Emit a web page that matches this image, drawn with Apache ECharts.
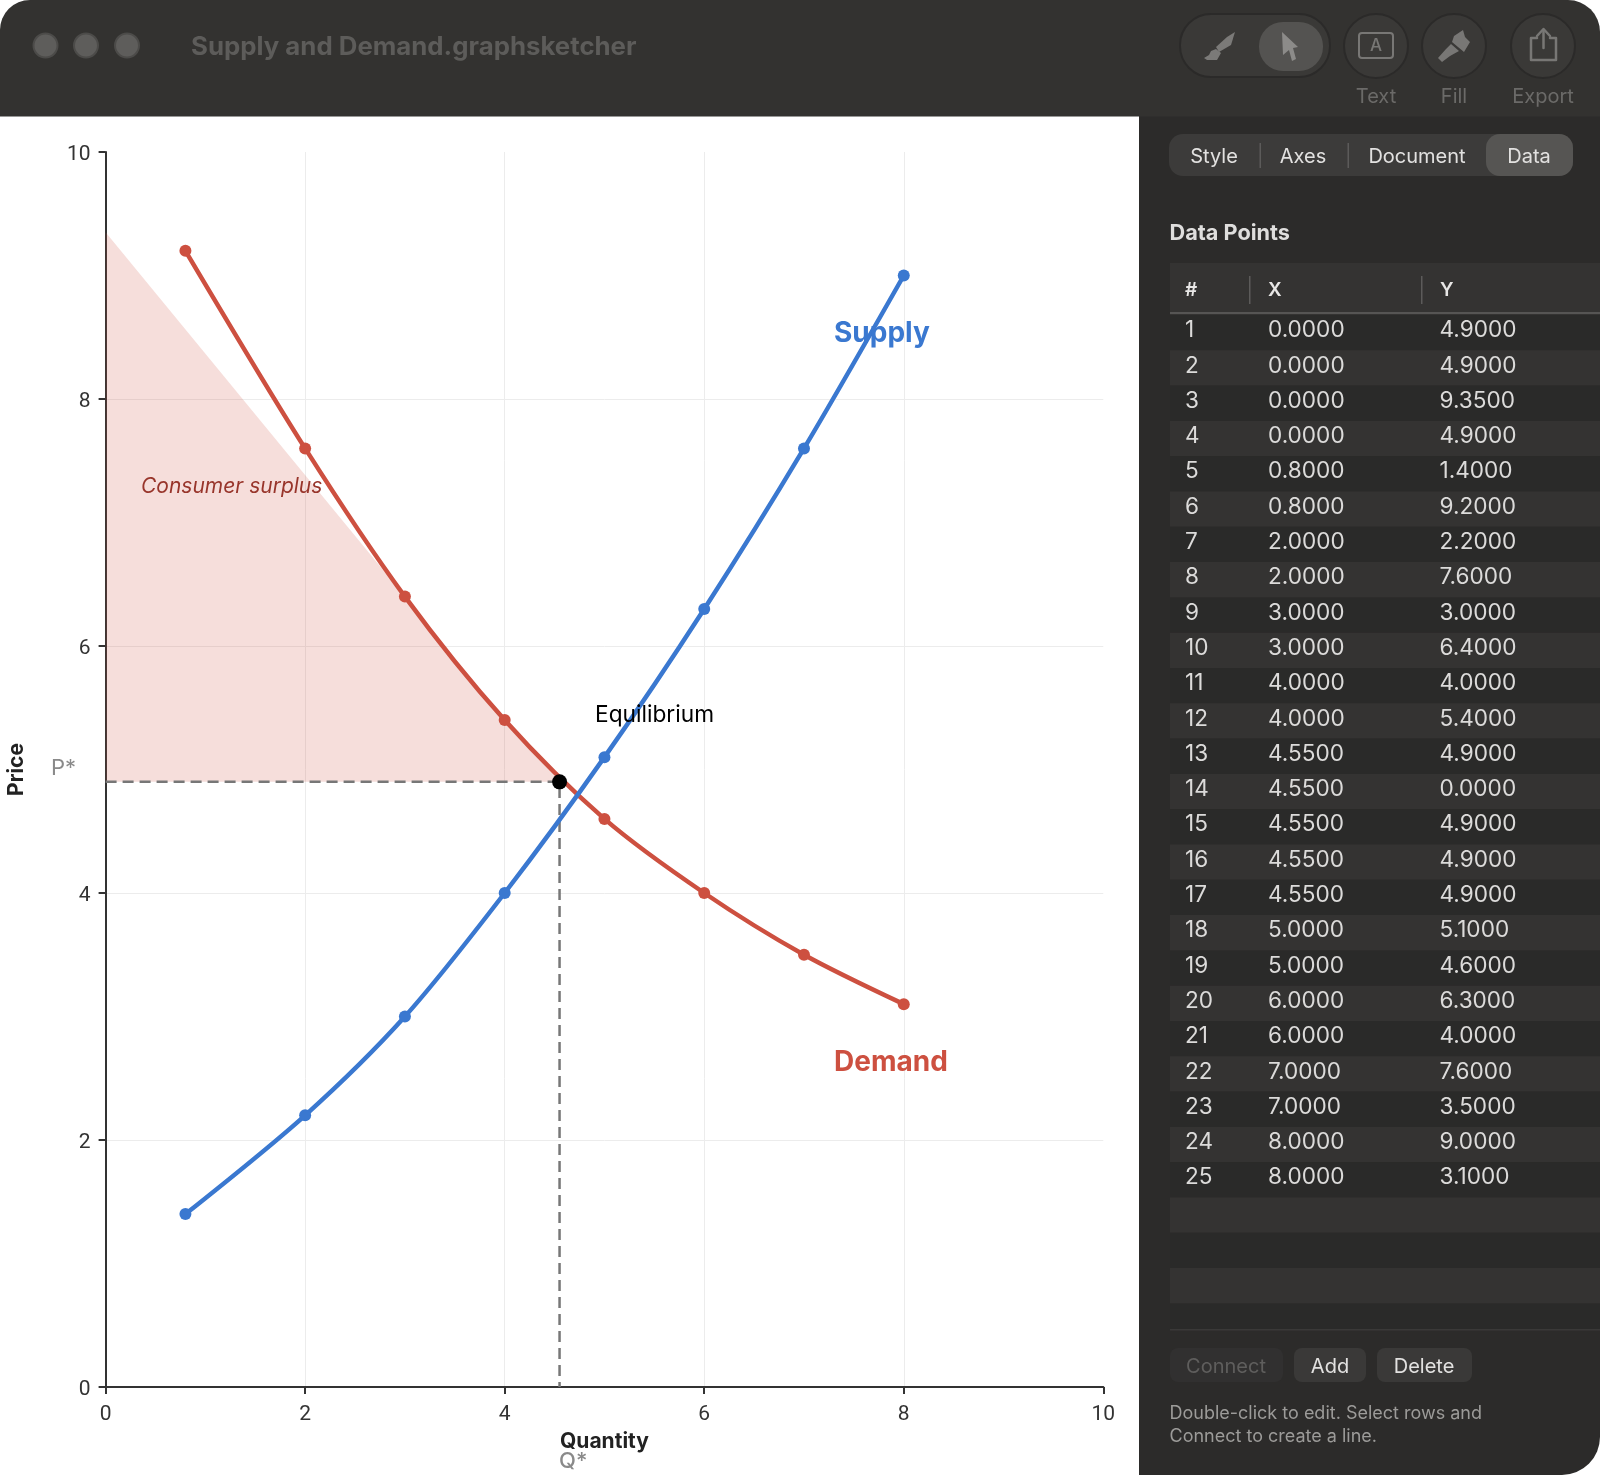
<!DOCTYPE html>
<html>
<head>
<meta charset="utf-8">
<title>Supply and Demand</title>
<script src="https://cdn.jsdelivr.net/npm/echarts@6/dist/echarts.min.js"></script>
<style>
  html, body { margin: 0; padding: 0; background: #fff; }
  #main { width: 1600px; height: 1475px; }
</style>
</head>
<body>
<div id="main"></div>
<script>
// curves
var quantity = [0.8, 2, 3, 4, 5, 6, 7, 8];
var supplyPrice = [1.4, 2.2, 3, 4, 5.1, 6.3, 7.6, 9];
var demandPrice = [9.2, 7.6, 6.4, 5.4, 4.6, 4, 3.5, 3.1];
var eqQ = 4.55;
var eqP = 4.9;
// consumer surplus polygon
var surplusX = [0, 0, 3, 4, 4.55];
var surplusY = [4.9, 9.35, 6.4, 5.4, 4.9];
// axis ticks
var xTicks = [0, 2, 4, 6, 8, 10];
var yTicks = [0, 2, 4, 6, 8, 10];
// data table on the right
var rowX = ['0.0000', '0.0000', '0.0000', '0.0000', '0.8000', '0.8000', '2.0000', '2.0000', '3.0000', '3.0000', '4.0000', '4.0000', '4.5500', '4.5500', '4.5500', '4.5500', '4.5500', '5.0000', '5.0000', '6.0000', '6.0000', '7.0000', '7.0000', '8.0000', '8.0000'];
var rowY = ['4.9000', '4.9000', '9.3500', '4.9000', '1.4000', '9.2000', '2.2000', '7.6000', '3.0000', '6.4000', '4.0000', '5.4000', '4.9000', '0.0000', '4.9000', '4.9000', '4.9000', '5.1000', '4.6000', '6.3000', '4.0000', '7.6000', '3.5000', '9.0000', '3.1000'];
var tabs = ['Style', 'Axes', 'Document', 'Data'];
var tools = ['Text', 'Fill', 'Export'];

var FONT = 'Inter, "Noto Sans", sans-serif';
var BLUE = '#3a78d0';
var RED = '#cd5040';

function zip(xs, ys) {
  return xs.map(function (x, i) { return [x, ys[i]]; });
}
function txt(s, x, y, size, color, extra) {
  var st = {
    text: s, x: x, y: y, fill: color, align: 'left', verticalAlign: 'middle',
    font: (extra && extra.font ? extra.font + ' ' : '') + size + 'px ' + FONT
  };
  if (extra && extra.align) st.align = extra.align;
  return { type: 'text', z: 20, style: st, rotation: extra && extra.rotation || 0, silent: true };
}
function box(x, y, w, h, fill, r, stroke, z) {
  return {
    type: 'rect', z: z || 10, silent: true,
    shape: { x: x, y: y, width: w, height: h, r: r || 0 },
    style: { fill: fill, stroke: stroke || null, lineWidth: stroke ? 2 : 0 }
  };
}
function poly(points, fill) {
  return { type: 'polygon', z: 15, silent: true, shape: { points: points }, style: { fill: fill } };
}
function stroke(points, color, w) {
  return { type: 'polyline', z: 15, silent: true, shape: { points: points }, style: { stroke: color, lineWidth: w, fill: null, lineCap: 'round', lineJoin: 'round' } };
}
function circle(cx, cy, r, fill, border) {
  return { type: 'circle', z: 11, silent: true, shape: { cx: cx, cy: cy, r: r }, style: { fill: fill, stroke: border || null, lineWidth: border ? 2 : 0 } };
}

// window chrome: title bar, toolbar, inspector and table
function buildChrome() {
  var g = [];
  g.push(box(1139, 100, 461, 1375, '#2c2b2a', [0, 0, 38, 0], null, 9));
  g.push(box(0, 0, 1600, 116.5, '#333230', [30, 32, 0, 0], null, 9));

  // traffic lights
  [45.5, 86, 127].forEach(function (x) {
    g.push(circle(x, 45.5, 12, '#5e5d5b', '#4c4b49'));
  });
  g.push(txt('Supply and Demand.graphsketcher', 191, 47, 25.8, '#5d5c5a', { font: '700' }));

  // toolbar buttons
  g.push(box(1180, 14, 150, 63, '#3a3937', 31, '#2b2a29'));
  g.push(box(1259, 22, 64, 49, '#545351', 24));
  g.push(circle(1376, 46, 32, '#3a3937', '#2b2a29'));
  g.push(circle(1454, 46, 32, '#3a3937', '#2b2a29'));
  g.push(circle(1543, 46, 32, '#3a3937', '#2b2a29'));
  // brush
  g.push(poly([[1235, 32], [1231, 45], [1219, 52], [1216, 47], [1227, 37]], '#7b7a78'));
  g.push(poly([[1216, 49], [1221, 53], [1217, 60], [1207, 60], [1204, 58], [1209, 55], [1211, 51]], '#7b7a78'));
  // arrow
  g.push(poly([[1282, 32], [1298, 47], [1293, 48], [1296, 59], [1292, 61], [1289, 50], [1283, 55]], '#8c8b89'));
  // text frame
  g.push(box(1359, 33, 34, 25, null, 3, '#787775', 15));
  g.push(txt('A', 1376, 46, 17, '#787775', { align: 'center', font: '500' }));
  // fill brush
  g.push(poly([[1454, 36], [1463, 30], [1465, 37], [1470, 42], [1464, 52], [1452, 42]], '#787775'));
  g.push(poly([[1451, 44], [1459, 51], [1450, 56], [1442, 62], [1438, 58], [1446, 49]], '#787775'));
  // share
  g.push(stroke([[1537, 38], [1531, 38], [1531, 60], [1556, 60], [1556, 38], [1550, 38]], '#787775', 2.5));
  g.push(stroke([[1543.5, 48], [1543.5, 30]], '#787775', 2.5));
  g.push(stroke([[1537, 36], [1543.5, 29], [1550, 36]], '#787775', 2.5));
  [1376, 1454, 1543].forEach(function (x, i) {
    g.push(txt(tools[i], x, 97, 20, '#6b6a68', { align: 'center' }));
  });

  // inspector tabs
  g.push(box(1169, 134, 404, 42, '#3c3b3a', 14));
  g.push(box(1486, 134, 87, 42, '#565553', 14));
  g.push(box(1259.5, 143, 1.5, 25, '#5c5b5a'));
  g.push(box(1347.5, 143, 1.5, 25, '#5c5b5a'));
  [1214, 1303, 1417, 1529].forEach(function (x, i) {
    g.push(txt(tabs[i], x, 157, 20, '#e2e1e0', { align: 'center' }));
  });
  g.push(txt('Data Points', 1169.5, 233.5, 21.7, '#dfdedd', { font: '700' }));

  // table
  g.push(box(1170, 263, 430, 52, '#343332'));
  g.push(box(1170, 312, 430, 2, '#565554'));
  g.push(box(1249, 276, 1.5, 28, '#5c5b5a'));
  g.push(box(1421, 276, 1.5, 28, '#5c5b5a'));
  g.push(txt('#', 1185, 290.5, 19, '#e8e7e6', { font: '600' }));
  g.push(txt('X', 1268, 290.5, 19, '#e8e7e6', { font: '600' }));
  g.push(txt('Y', 1440, 290.5, 19, '#e8e7e6', { font: '600' }));
  for (var i = 0; i < 29; i++) {
    var top = 315 + i * 35.3;
    g.push(box(1170, top, 430, i === 28 ? 26 : 35.3, i % 2 ? '#343332' : '#2a2a29'));
    if (i < rowX.length) {
      g.push(txt(String(i + 1), 1185, top + 15.5, 22.6, '#dcdbda'));
      g.push(txt(rowX[i], 1268, top + 15.5, 22.6, '#dcdbda'));
      g.push(txt(rowY[i], 1439.5, top + 15.5, 22.6, '#dcdbda'));
    }
  }
  g.push(box(1170, 1329, 430, 1.5, '#3a3938'));

  // buttons and hint
  g.push(box(1170, 1348, 113, 34, '#313030', 8));
  g.push(box(1294, 1348, 72, 34, '#3a3938', 8));
  g.push(box(1377, 1348, 95, 34, '#3a3938', 8));
  g.push(txt('Connect', 1226, 1367, 20, '#5f5e5d', { align: 'center' }));
  g.push(txt('Add', 1330, 1367, 20, '#e2e1e0', { align: 'center' }));
  g.push(txt('Delete', 1424, 1367, 20, '#e2e1e0', { align: 'center' }));
  g.push(txt('Double-click to edit. Select rows and', 1169.5, 1413.5, 18, '#9c9b99'));
  g.push(txt('Connect to create a line.', 1169.5, 1436.5, 18, '#9c9b99'));

  // notes on the chart
  g.push(txt('Supply', 834, 334, 28, BLUE, { font: '700' }));
  g.push(txt('Demand', 834, 1063, 28, RED, { font: '700' }));
  g.push(txt('Consumer surplus', 141, 487, 21, '#98352b', { font: 'italic' }));
  g.push(txt('Equilibrium', 595, 715, 22.7, '#000'));
  g.push(txt('P*', 51, 768, 22, '#8a8a8a'));
  g.push(txt('Q*', 559, 1461, 22, '#8a8a8a', { font: '500' }));
  return g;
}

var chart = echarts.init(document.getElementById('main'));

var axisCommon = {
  type: 'value', min: 0, max: 10, interval: 2,
  axisLine: { onZero: false, lineStyle: { color: '#333', width: 2 } },
  axisTick: { show: true, length: 7, lineStyle: { color: '#333', width: 2 } },
  splitLine: { show: true, showMinLine: false, showMaxLine: false, lineStyle: { color: '#ececec', width: 1 } },
  nameLocation: 'middle',
  nameTextStyle: { color: '#222', fontFamily: FONT, fontWeight: 700, fontSize: 21 }
};

var option = {
  animation: false,
  backgroundColor: '#fff',
  grid: { left: 105.6, top: 152, width: 997.7, height: 1235, outerBoundsMode: 'none' },
  xAxis: Object.assign({}, axisCommon, {
    name: 'Quantity', nameGap: 44,
    axisLabel: { color: '#333', fontFamily: 'Roboto', fontSize: 21, margin: 17, formatter: function (v) { return xTicks.indexOf(v) >= 0 ? v : ''; } }
  }),
  yAxis: Object.assign({}, axisCommon, {
    name: 'Price', nameGap: 78,
    axisLabel: { color: '#333', fontFamily: 'Roboto', fontSize: 21, margin: 15, verticalAlign: 'top', lineHeight: 5, formatter: function (v) { return yTicks.indexOf(v) >= 0 ? v : ''; } }
  }),
  graphic: { elements: buildChrome() },
  series: [
    {
      name: 'Consumer surplus', type: 'custom', z: 1, silent: true,
      data: [zip(surplusX, surplusY)],
      renderItem: function (params, api) {
        return {
          type: 'polygon',
          shape: { points: zip(surplusX, surplusY).map(function (p) { return api.coord(p); }) },
          style: { fill: 'rgba(205,80,64,0.19)' }
        };
      }
    },
    {
      name: 'Guides', type: 'line', z: 2, silent: true, symbol: 'none',
      data: [[0, eqP], [eqQ, eqP], [eqQ, 0]],
      lineStyle: { color: '#777', width: 2.5, type: [11, 6] }
    },
    {
      name: 'Demand', type: 'line', z: 3, smooth: 0.3, symbol: 'circle', symbolSize: 12,
      data: zip(quantity, demandPrice),
      lineStyle: { color: RED, width: 4.5 }, itemStyle: { color: RED }
    },
    {
      name: 'Supply', type: 'line', z: 4, smooth: 0.3, symbol: 'circle', symbolSize: 12,
      data: zip(quantity, supplyPrice),
      lineStyle: { color: BLUE, width: 4.5 }, itemStyle: { color: BLUE }
    },
    {
      name: 'Equilibrium', type: 'scatter', z: 5, symbolSize: 15,
      data: [[eqQ, eqP]], itemStyle: { color: '#000', opacity: 1 }
    }
  ]
};
chart.setOption(option);
</script>
</body>
</html>
